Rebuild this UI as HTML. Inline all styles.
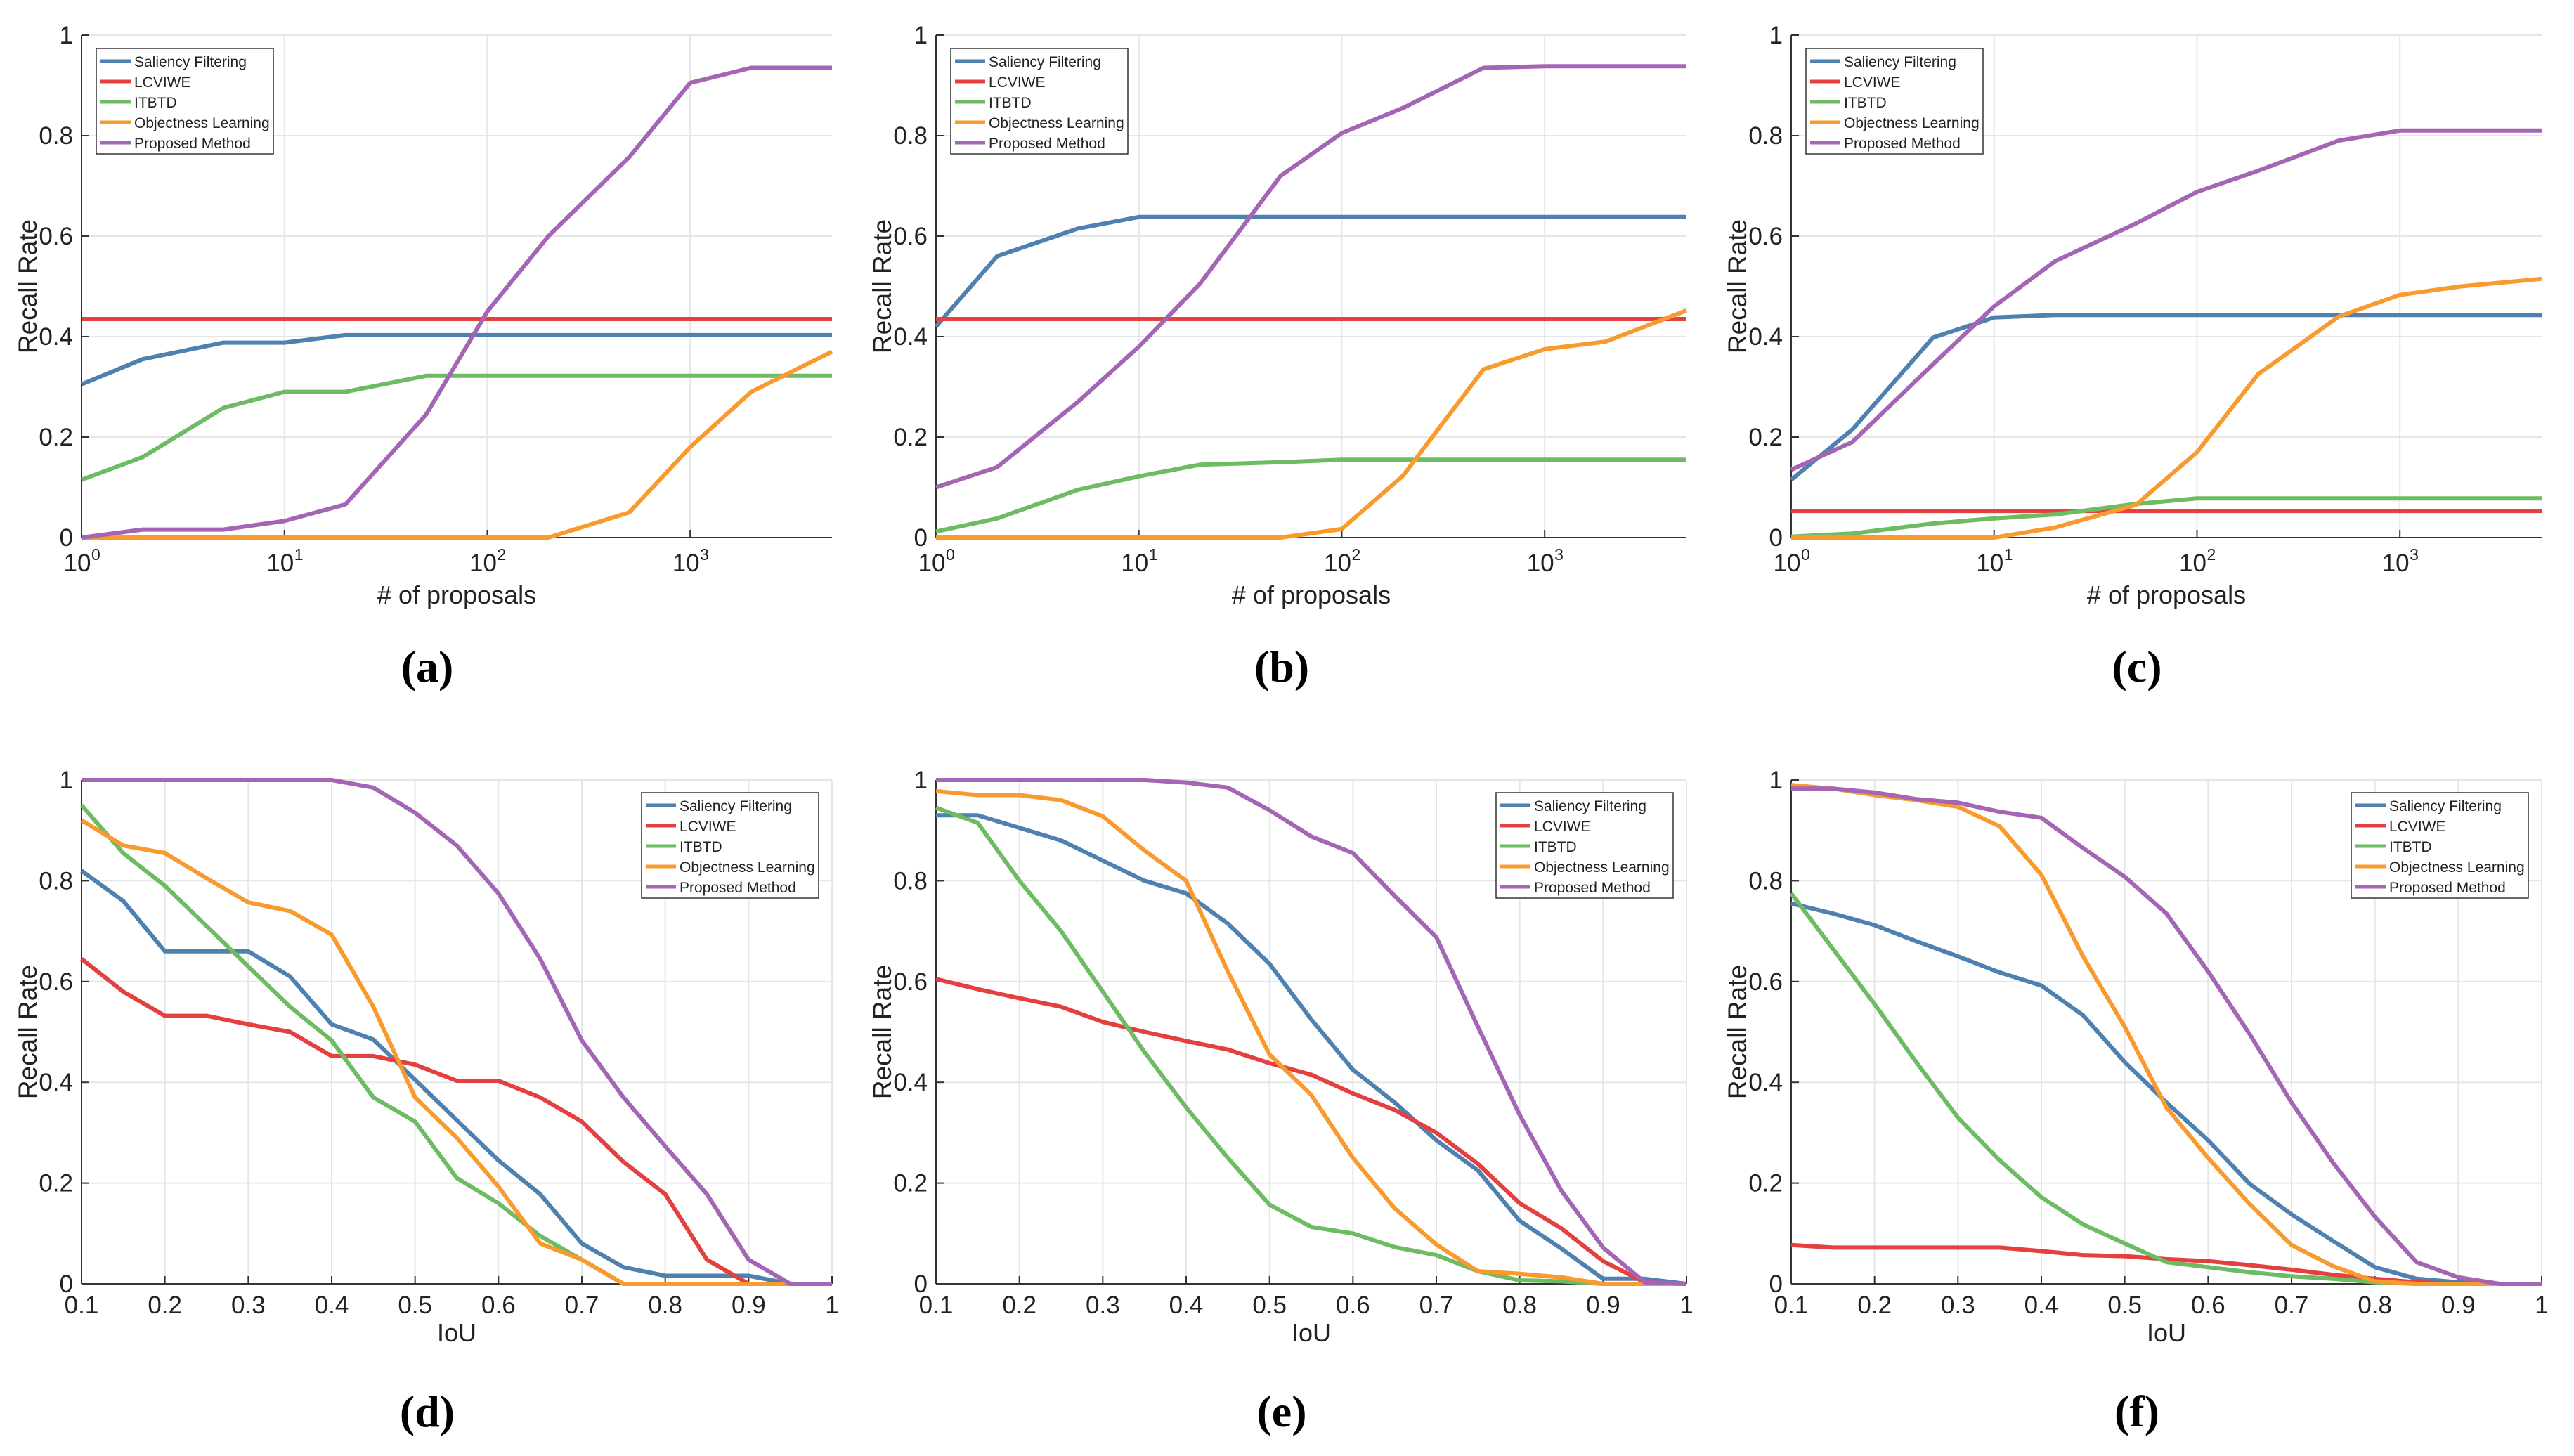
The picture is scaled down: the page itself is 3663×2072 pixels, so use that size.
<!DOCTYPE html>
<html><head><meta charset="utf-8">
<style>
html,body{margin:0;padding:0;background:#fff;}
svg{display:block;}
text{font-family:"Liberation Sans",Arial,sans-serif;fill:#222;}
.cap{font-family:"Liberation Serif",serif;font-weight:bold;fill:#000;}
</style></head>
<body>
<svg id="chart" width="3663" height="2072" viewBox="0 0 3663 2072" xmlns="http://www.w3.org/2000/svg"></svg>
<script>
const seriesNames = ["Saliency Filtering","LCVIWE","ITBTD","Objectness Learning","Proposed Method"];
const seriesColors = ["#4e80b0","#e3403f","#6dbb63","#f99a2e","#a565b5"];
const proposalX = [1,2,5,10,20,50,100,200,500,1000,2000,5000];
const iouX = [0.1,0.15,0.2,0.25,0.3,0.35,0.4,0.45,0.5,0.55,0.6,0.65,0.7,0.75,0.8,0.85,0.9,0.95,1];
const yTicks = [0,0.2,0.4,0.6,0.8,1];
const yTickLabels = ["0","0.2","0.4","0.6","0.8","1"];
const logTickExps = [0,1,2,3];
const iouTicks = [0.1,0.2,0.3,0.4,0.5,0.6,0.7,0.8,0.9,1];
const iouTickLabels = ["0.1","0.2","0.3","0.4","0.5","0.6","0.7","0.8","0.9","1"];
const captions = ["(a)","(b)","(c)","(d)","(e)","(f)"];

const aBlue = [0.305,0.355,0.388,0.388,0.403,0.403,0.403,0.403,0.403,0.403,0.403,0.403];
const aRed = [0.435,0.435,0.435,0.435,0.435,0.435,0.435,0.435,0.435,0.435,0.435,0.435];
const aGreen = [0.115,0.16,0.258,0.29,0.29,0.322,0.322,0.322,0.322,0.322,0.322,0.322];
const aOrange = [0,0,0,0,0,0,0,0,0.05,0.18,0.29,0.37];
const aPurple = [0,0.016,0.016,0.033,0.066,0.245,0.45,0.6,0.757,0.905,0.935,0.935];

const bBlue = [0.42,0.56,0.615,0.638,0.638,0.638,0.638,0.638,0.638,0.638,0.638,0.638];
const bRed = [0.435,0.435,0.435,0.435,0.435,0.435,0.435,0.435,0.435,0.435,0.435,0.435];
const bGreen = [0.012,0.038,0.095,0.122,0.145,0.15,0.155,0.155,0.155,0.155,0.155,0.155];
const bOrange = [0,0,0,0,0,0,0.017,0.123,0.335,0.375,0.39,0.452];
const bPurple = [0.1,0.14,0.27,0.38,0.505,0.72,0.805,0.855,0.935,0.938,0.938,0.938];

const cBlue = [0.115,0.215,0.398,0.438,0.443,0.443,0.443,0.443,0.443,0.443,0.443,0.443];
const cRed = [0.053,0.053,0.053,0.053,0.053,0.053,0.053,0.053,0.053,0.053,0.053,0.053];
const cGreen = [0.002,0.008,0.028,0.038,0.046,0.067,0.078,0.078,0.078,0.078,0.078,0.078];
const cOrange = [0,0,0,0,0.02,0.065,0.17,0.325,0.44,0.483,0.5,0.515];
const cPurple = [0.135,0.19,0.345,0.46,0.55,0.625,0.688,0.73,0.79,0.81,0.81,0.81];

const dBlue = [0.82,0.76,0.66,0.66,0.66,0.61,0.515,0.485,0.405,0.325,0.245,0.178,0.08,0.033,0.016,0.016,0.016,0,0];
const dRed = [0.645,0.58,0.532,0.532,0.515,0.5,0.452,0.452,0.435,0.403,0.403,0.37,0.322,0.242,0.178,0.048,0,0,0];
const dGreen = [0.95,0.855,0.79,0.71,0.63,0.55,0.483,0.37,0.322,0.21,0.16,0.095,0.048,0,0,0,0,0,0];
const dOrange = [0.92,0.87,0.855,0.805,0.757,0.74,0.693,0.55,0.37,0.29,0.193,0.08,0.048,0,0,0,0,0,0];
const dPurple = [1,1,1,1,1,1,1,0.985,0.935,0.87,0.775,0.645,0.483,0.37,0.273,0.178,0.048,0,0];

const eBlue = [0.93,0.93,0.905,0.88,0.84,0.80,0.775,0.715,0.635,0.525,0.425,0.36,0.285,0.225,0.125,0.07,0.01,0.01,0];
const eRed = [0.605,0.585,0.567,0.55,0.52,0.5,0.482,0.465,0.438,0.415,0.378,0.345,0.3,0.238,0.16,0.11,0.045,0.003,0];
const eGreen = [0.945,0.915,0.8,0.7,0.58,0.46,0.35,0.25,0.157,0.113,0.1,0.073,0.057,0.025,0.007,0.005,0,0,0];
const eOrange = [0.978,0.97,0.97,0.96,0.928,0.86,0.8,0.62,0.455,0.375,0.25,0.15,0.078,0.025,0.02,0.013,0,0,0];
const ePurple = [1,1,1,1,1,1,0.995,0.985,0.94,0.888,0.855,0.77,0.688,0.51,0.335,0.185,0.072,0.003,0];

const fBlue = [0.755,0.735,0.712,0.68,0.65,0.618,0.592,0.533,0.44,0.36,0.285,0.198,0.138,0.085,0.033,0.01,0.003,0,0];
const fRed = [0.077,0.072,0.072,0.072,0.072,0.072,0.065,0.057,0.055,0.049,0.045,0.037,0.028,0.018,0.01,0.003,0,0,0];
const fGreen = [0.775,0.665,0.555,0.44,0.33,0.245,0.172,0.118,0.08,0.043,0.033,0.023,0.015,0.01,0.003,0,0,0,0];
const fOrange = [0.99,0.983,0.97,0.96,0.947,0.908,0.812,0.65,0.51,0.35,0.25,0.158,0.077,0.035,0.005,0,0,0,0];
const fPurple = [0.983,0.983,0.975,0.962,0.955,0.937,0.925,0.865,0.808,0.735,0.62,0.495,0.36,0.24,0.133,0.043,0.013,0,0];

const NS = "http://www.w3.org/2000/svg";
const svg = document.getElementById("chart");
function mk(tag, attrs, parent){
  const e = document.createElementNS(NS, tag);
  for (const k in attrs) e.setAttribute(k, attrs[k]);
  (parent||svg).appendChild(e);
  return e;
}

const panels = [
  {left:116, top:50, bottom:765, log:true, data:[aBlue,aRed,aGreen,aOrange,aPurple], legend:"left", key:"a"},
  {left:1332, top:50, bottom:765, log:true, data:[bBlue,bRed,bGreen,bOrange,bPurple], legend:"left", key:"b"},
  {left:2549, top:50, bottom:765, log:true, data:[cBlue,cRed,cGreen,cOrange,cPurple], legend:"left", key:"c"},
  {left:116, top:1110, bottom:1827, log:false, data:[dBlue,dRed,dGreen,dOrange,dPurple], legend:"right", key:"d"},
  {left:1332, top:1110, bottom:1827, log:false, data:[eBlue,eRed,eGreen,eOrange,ePurple], legend:"right", key:"e"},
  {left:2549, top:1110, bottom:1827, log:false, data:[fBlue,fRed,fGreen,fOrange,fPurple], legend:"right", key:"f"}
];
const W = 1068;

panels.forEach((p, pi) => {
  const g = mk("g", {});
  
  
  const right = p.left + W;
  const xs = p.log
    ? v => p.left + (Math.log10(v) / Math.log10(5000)) * W
    : v => p.left + ((v - 0.1) / 0.9) * W;
  const ys = v => p.bottom - v * (p.bottom - p.top);

  yTicks.forEach((t, i) => {
    if (t > 0) {
      const gl = mk("line", {x1:p.left, x2:right, y1:ys(t), y2:ys(t), stroke:"#e6e6e6", "stroke-width":2}, g);
      
      
    }
    const tk = mk("line", {x1:p.left, x2:p.left+11, y1:ys(t), y2:ys(t), stroke:"#333", "stroke-width":2}, g);
    
    
    const tl = mk("text", {x:p.left-12, y:ys(t)+12, "text-anchor":"end", "font-size":35}, g);
    tl.textContent = yTickLabels[i];
    
    
  });
  if (p.log) {
    logTickExps.forEach(e => {
      const x = xs(Math.pow(10, e));
      if (e > 0) {
        const gl = mk("line", {x1:x, x2:x, y1:p.top, y2:p.bottom, stroke:"#e6e6e6", "stroke-width":2}, g);
        
        
      }
      const tk = mk("line", {x1:x, x2:x, y1:p.bottom, y2:p.bottom-11, stroke:"#333", "stroke-width":2}, g);
      
      
      const tl = mk("text", {x:x-6, y:p.bottom+48, "text-anchor":"middle", "font-size":35}, g);
      tl.textContent = "10";
      
      
      const sup = mk("text", {x:x+14, y:p.bottom+32, "text-anchor":"start", "font-size":23}, g);
      sup.textContent = String(e);
      
      
    });
  } else {
    iouTicks.forEach((t, i) => {
      const x = xs(t);
      if (i > 0) {
        const gl = mk("line", {x1:x, x2:x, y1:p.top, y2:p.bottom, stroke:"#e6e6e6", "stroke-width":2}, g);
        
        
      }
      const tk = mk("line", {x1:x, x2:x, y1:p.bottom, y2:p.bottom-11, stroke:"#333", "stroke-width":2}, g);
      
      
      const tl = mk("text", {x:x, y:p.bottom+42, "text-anchor":"middle", "font-size":35}, g);
      tl.textContent = iouTickLabels[i];
      
      
    });
  }
  const ax = mk("line", {x1:p.left, x2:right, y1:p.bottom, y2:p.bottom, stroke:"#333", "stroke-width":2}, g);
  
  
  const ay = mk("line", {x1:p.left, x2:p.left, y1:p.top, y2:p.bottom, stroke:"#333", "stroke-width":2}, g);
  
  

  const xvals = p.log ? proposalX : iouX;
  p.data.forEach((arr, si) => {
    const pts = arr.map((v, i) => xs(xvals[i]).toFixed(1) + "," + ys(v).toFixed(1)).join(" ");
    const pl = mk("polyline", {points:pts, fill:"none", stroke:seriesColors[si], "stroke-width":6, "stroke-linejoin":"round"}, g);
    
    
  });

  const mid = (p.top + p.bottom) / 2;
  const yt = mk("text", {x:p.left-64, y:mid, "text-anchor":"middle", "font-size":37, transform:"rotate(-90 " + (p.left-64) + " " + mid + ")"}, g);
  yt.textContent = "Recall Rate";
  
  
  const xt = mk("text", {x:p.left+W/2, y:p.bottom+(p.log?94:82), "text-anchor":"middle", "font-size":36}, g);
  xt.textContent = p.log ? "# of proposals" : "IoU";
  
  

  const cap = mk("text", {x:p.left+W/2-42, y:p.log ? 970 : 2030, "text-anchor":"middle", "font-size":64, class:"cap"}, g);
  cap.textContent = captions[pi];
  
  

  const lx = p.legend === "left" ? p.left + 21 : right - 19 - 252;
  const ly = p.legend === "left" ? p.top + 19 : p.top + 18;
  const lg = mk("g", {}, g);
  
  
  mk("rect", {x:lx, y:ly, width:252, height:150, fill:"#fff", stroke:"#333", "stroke-width":1.5}, lg);
  seriesNames.forEach((n, si) => {
    const ry = ly + 18 + si * 29;
    const ent = mk("g", {}, lg);
    
    
    mk("line", {x1:lx+6, x2:lx+49, y1:ry, y2:ry, stroke:seriesColors[si], "stroke-width":5}, ent);
    const t = mk("text", {x:lx+54, y:ry+8, "font-size":21}, ent);
    t.textContent = n;
  });
});
</script>
</body></html>
